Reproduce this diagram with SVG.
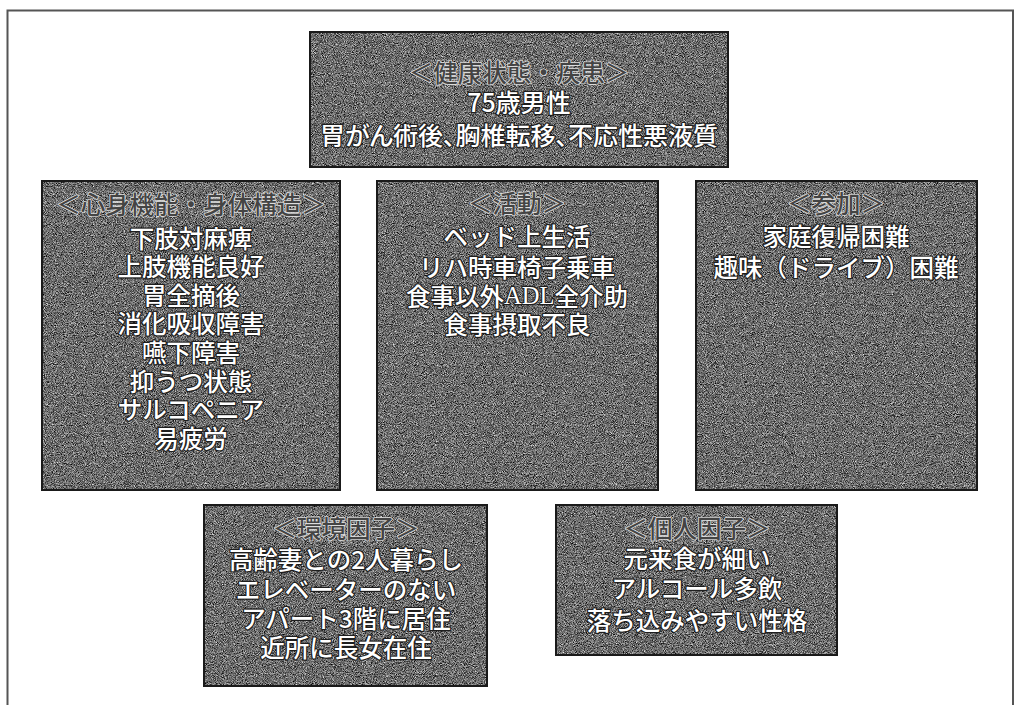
<svg xmlns="http://www.w3.org/2000/svg" width="1016" height="705" viewBox="0 0 1016 705">
<style>
.frame{fill:none;stroke:#555;stroke-width:2}
.box{fill:#5e5e5e}
.edge{fill:none;stroke:#1a1a1a;stroke-width:2}
text{font-family:"Noto Sans CJK JP","Noto Sans",sans-serif;text-anchor:middle;dominant-baseline:central;font-size:24.5px;font-weight:500}
.t{fill:#ffffff;stroke:#1e1e1e;stroke-width:2.4;paint-order:stroke;stroke-linejoin:round}
.h{fill:#444444;stroke:#dcdcdc;stroke-width:1.6;paint-order:stroke;stroke-linejoin:round}
.big{font-size:25px}
.palt{font-feature-settings:"palt"}
.serif{font-family:"Liberation Serif",serif}
</style>
<defs>
<filter id="grain" x="0" y="0" width="100%" height="100%" color-interpolation-filters="sRGB">
<feTurbulence type="fractalNoise" baseFrequency="1.1" numOctaves="2" seed="7" result="n"/>
<feColorMatrix in="n" type="matrix" values="1 0 0 0 0  1 0 0 0 0  1 0 0 0 0  0 0 0 0 1" result="g"/>
<feComponentTransfer in="g" result="s">
<feFuncR type="linear" slope="1.3" intercept="-0.23"/>
<feFuncG type="linear" slope="1.3" intercept="-0.23"/>
<feFuncB type="linear" slope="1.3" intercept="-0.23"/>
</feComponentTransfer>
<feComposite in="s" in2="SourceGraphic" operator="in"/>
</filter>
</defs>
<rect width="1016" height="705" fill="#ffffff"/>
<path class="frame" d="M7.5,705 V10.5 H1013 V705"/>

<g id="health">
<rect class="box" x="310" y="32" width="418" height="135" filter="url(#grain)"/>
<rect class="edge" x="310" y="32" width="418" height="135"/>
<text class="h" x="519" y="71">＜健康状態・疾患＞</text>
<text class="t big" x="519" y="101">75歳男性</text>
<text class="t big palt" x="519" y="134">胃がん術後、胸椎転移、不応性悪液質</text>
</g>

<g id="body">
<rect class="box" x="42" y="181" width="298" height="309" filter="url(#grain)"/>
<rect class="edge" x="42" y="181" width="298" height="309"/>
<text class="h" x="191" y="203">＜心身機能・身体構造＞</text>
<text class="t" x="191" y="237">下肢対麻痺</text>
<text class="t" x="191" y="265">上肢機能良好</text>
<text class="t" x="191" y="294">胃全摘後</text>
<text class="t" x="191" y="322">消化吸収障害</text>
<text class="t" x="191" y="351">嚥下障害</text>
<text class="t" x="191" y="380">抑うつ状態</text>
<text class="t" x="191" y="408">サルコペニア</text>
<text class="t" x="191" y="437">易疲労</text>
</g>

<g id="activity">
<rect class="box" x="377" y="181" width="281" height="309" filter="url(#grain)"/>
<rect class="edge" x="377" y="181" width="281" height="309"/>
<text class="h" x="517" y="202">＜活動＞</text>
<text class="t" x="517" y="235">ベッド上生活</text>
<text class="t" x="517" y="266">リハ時車椅子乗車</text>
<text class="t" x="517" y="295">食事以外<tspan class="serif">ADL</tspan>全介助</text>
<text class="t" x="517" y="323">食事摂取不良</text>
</g>

<g id="participation">
<rect class="box" x="696" y="181" width="281" height="309" filter="url(#grain)"/>
<rect class="edge" x="696" y="181" width="281" height="309"/>
<text class="h" x="836" y="202">＜参加＞</text>
<text class="t" x="836" y="235">家庭復帰困難</text>
<text class="t" x="836" y="266">趣味（ドライブ）困難</text>
</g>

<g id="environment">
<rect class="box" x="204" y="505" width="283" height="181" filter="url(#grain)"/>
<rect class="edge" x="204" y="505" width="283" height="181"/>
<text class="h" x="346" y="527">＜環境因子＞</text>
<text class="t" x="346" y="558">高齢妻との2人暮らし</text>
<text class="t" x="346" y="588">エレベーターのない</text>
<text class="t" x="346" y="617">アパート3階に居住</text>
<text class="t" x="346" y="646">近所に長女在住</text>
</g>

<g id="personal">
<rect class="box" x="556" y="505" width="281" height="150" filter="url(#grain)"/>
<rect class="edge" x="556" y="505" width="281" height="150"/>
<text class="h" x="697" y="527">＜個人因子＞</text>
<text class="t" x="697" y="557">元来食が細い</text>
<text class="t" x="697" y="587">アルコール多飲</text>
<text class="t" x="697" y="619">落ち込みやすい性格</text>
</g>

<g id="connectors"></g>
</svg>
